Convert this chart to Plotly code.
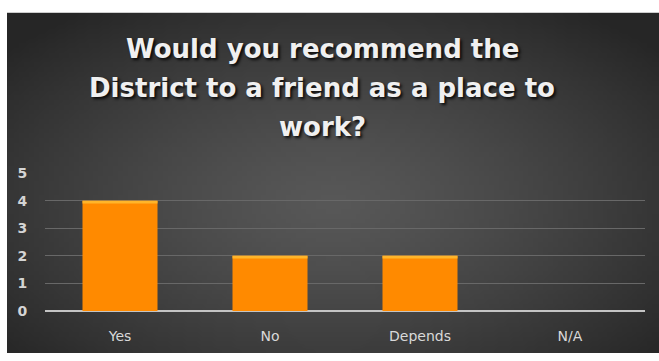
import base64
import struct
import zlib

import numpy as np
import plotly.graph_objects as go

# Survey responses
categories = ["Yes", "No", "Depends", "N/A"]
responses = [4, 2, 2, 0]
y_ticks = [0, 1, 2, 3, 4, 5]
title_lines = ["Would you recommend the", "District to a friend as a place to", "work?"]

W, H = 659, 361


def gray_png_uri(arr):
    """Encode a 2-D uint8 array as an 8-bit greyscale PNG data URI."""
    h, w = arr.shape
    raw = b"".join(b"\x00" + arr[r].tobytes() for r in range(h))

    def chunk(tag, data):
        return (struct.pack(">I", len(data)) + tag + data
                + struct.pack(">I", zlib.crc32(tag + data) & 0xFFFFFFFF))

    png = (b"\x89PNG\r\n\x1a\n"
           + chunk(b"IHDR", struct.pack(">IIBBBBB", w, h, 8, 0, 0, 0, 0))
           + chunk(b"IDAT", zlib.compress(raw, 9))
           + chunk(b"IEND", b""))
    return "data:image/png;base64," + base64.b64encode(png).decode()


# Radial dark-grey backdrop: lighter in the middle, darker toward the edges
gw, gh = 132, 72
u = np.linspace(-1, 1, gw)[None, :]
v = np.linspace(-1, 1, gh)[:, None]
dist = np.sqrt(u ** 2 + ((v - 0.12) / 1.05) ** 2)
t = np.clip(dist / 1.35, 0, 1)
backdrop = (88 - (88 - 38) * t ** 1.3).astype(np.uint8)

fig = go.Figure()

bar_kw = dict(x=categories, hoverinfo="skip", showlegend=False)
fig.add_trace(go.Bar(y=responses, marker=dict(color="#FF8A00", line=dict(width=0)), **bar_kw))
# thin light band along the top edge of each bar
cap = 0.1
fig.add_trace(go.Bar(
    y=[cap if v > 0 else None for v in responses],
    base=[v - cap if v > 0 else None for v in responses],
    marker=dict(color="#FFB52A", line=dict(width=0)), **bar_kw))

left, right, top, zero = 45, 645, 172.7, 317
fig.update_layout(
    width=W, height=H,
    margin=dict(l=0, r=0, t=0, b=0),
    paper_bgcolor="white", plot_bgcolor="rgba(0,0,0,0)",
    barmode="overlay", bargap=0.5,
    images=[dict(
        source=gray_png_uri(backdrop), xref="paper", yref="paper",
        x=7 / W, y=1 - 5 / H, sizex=1 - 7 / W, sizey=1 - 5 / H,
        xanchor="left", yanchor="top", sizing="stretch", layer="below",
    )],
    xaxis=dict(
        domain=[left / W, right / W], showgrid=False, showline=False,
        ticks="outside", ticklen=12, tickcolor="rgba(0,0,0,0)",
        tickfont=dict(family="DejaVu Sans", size=14, color="#d9d9d9"),
    ),
    yaxis=dict(
        domain=[(H - zero) / H, (H - top) / H], range=[0, 5],
        tickvals=y_ticks, showgrid=True, gridcolor="#686868", gridwidth=1,
        zeroline=True, zerolinecolor="#c4c4c4", zerolinewidth=2,
        ticks="outside", ticklen=14, tickcolor="rgba(0,0,0,0)",
        tickfont=dict(family="DejaVu Sans", size=14, color="#d4d4d4", weight="bold"),
    ),
)

title_y = [43, 84, 125]
for line, yc in zip(title_lines, title_y):
    fig.add_annotation(
        text=line, xref="paper", yref="paper", x=322 / W, y=(H - yc) / H,
        xanchor="center", yanchor="middle", showarrow=False,
        font=dict(family="DejaVu Sans", size=26, color="#f0f0f0", weight="bold",
                  shadow="2px 2px 3px rgba(0,0,0,0.85)"),
    )

# pin the figure to the page corner
pin_js = (
    "document.documentElement.style.margin='0';"
    "document.body.style.margin='0';document.body.style.padding='0';"
    "document.body.style.overflow='hidden';"
    "var d=document.getElementById('{plot_id}');"
    "d.style.position='fixed';d.style.left='0';d.style.top='0';"
)
fig.write_html("out.html", post_script=pin_js)
